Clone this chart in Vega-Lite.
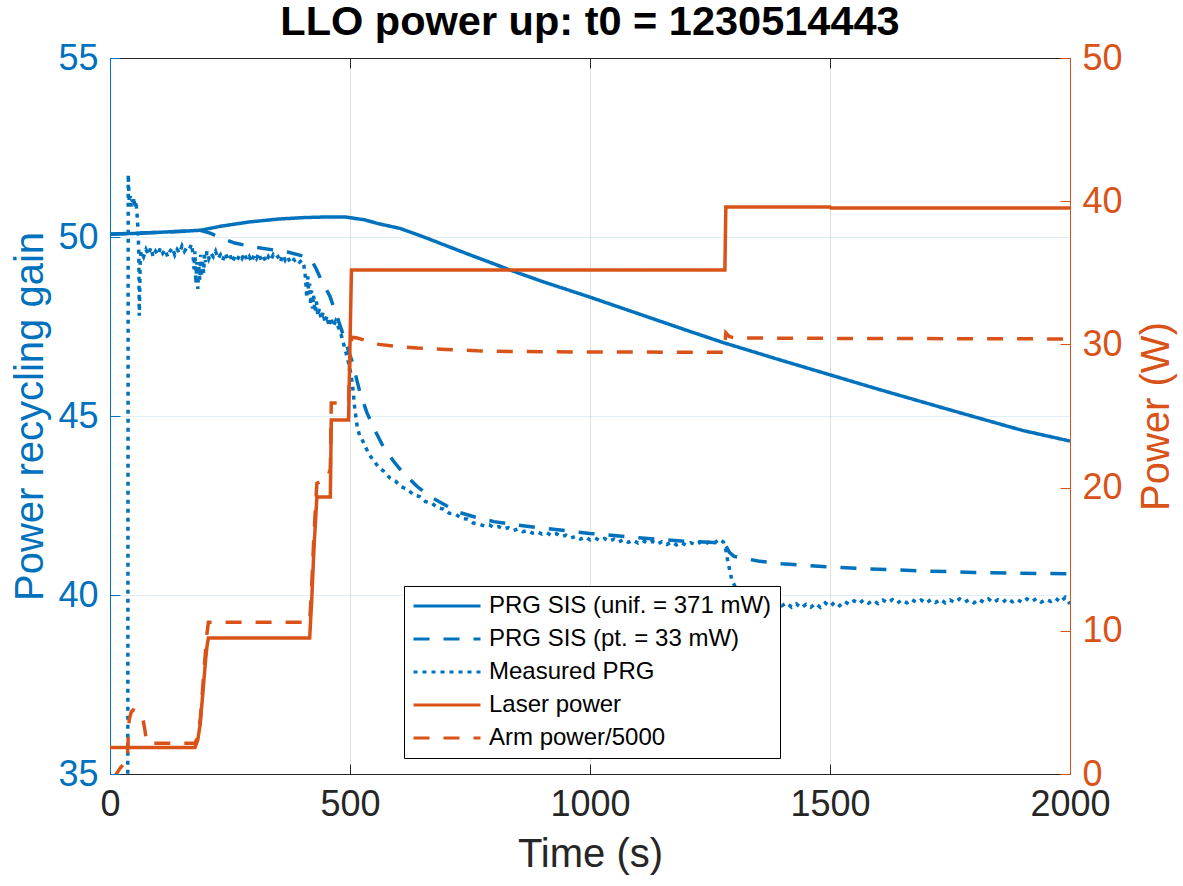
{
"$schema": "https://vega.github.io/schema/vega-lite/v6.json",
"width": 960, "height": 716,
"autosize": {"type": "none"},
"padding": {"left": 110, "top": 58, "right": 113, "bottom": 112},
"background": "white",
"title": {"text": "LLO power up: t0 = 1230514443", "font": "Liberation Sans", "fontSize": 41.5, "fontWeight": "bold", "color": "black", "anchor": "middle", "frame": "group", "baseline": "alphabetic", "offset": 0, "dy": 36},
"data": {"values": [
{"s":"PRG SIS (unif. = 371 mW)","t":0,"v":50.08},{"s":"PRG SIS (unif. = 371 mW)","t":50,"v":50.1},{"s":"PRG SIS (unif. = 371 mW)","t":100,"v":50.13},{"s":"PRG SIS (unif. = 371 mW)","t":150,"v":50.16},{"s":"PRG SIS (unif. = 371 mW)","t":190,"v":50.19},{"s":"PRG SIS (unif. = 371 mW)","t":230,"v":50.3},{"s":"PRG SIS (unif. = 371 mW)","t":290,"v":50.42},{"s":"PRG SIS (unif. = 371 mW)","t":350,"v":50.5},{"s":"PRG SIS (unif. = 371 mW)","t":400,"v":50.54},{"s":"PRG SIS (unif. = 371 mW)","t":450,"v":50.56},{"s":"PRG SIS (unif. = 371 mW)","t":490,"v":50.56},{"s":"PRG SIS (unif. = 371 mW)","t":530,"v":50.48},{"s":"PRG SIS (unif. = 371 mW)","t":560,"v":50.37},{"s":"PRG SIS (unif. = 371 mW)","t":604,"v":50.24},{"s":"PRG SIS (unif. = 371 mW)","t":650,"v":50.02},{"s":"PRG SIS (unif. = 371 mW)","t":700,"v":49.76},{"s":"PRG SIS (unif. = 371 mW)","t":750,"v":49.5},{"s":"PRG SIS (unif. = 371 mW)","t":800,"v":49.25},{"s":"PRG SIS (unif. = 371 mW)","t":833,"v":49.08},{"s":"PRG SIS (unif. = 371 mW)","t":900,"v":48.76},{"s":"PRG SIS (unif. = 371 mW)","t":1000,"v":48.32},{"s":"PRG SIS (unif. = 371 mW)","t":1100,"v":47.86},{"s":"PRG SIS (unif. = 371 mW)","t":1200,"v":47.4},{"s":"PRG SIS (unif. = 371 mW)","t":1280,"v":47.04},{"s":"PRG SIS (unif. = 371 mW)","t":1400,"v":46.55},{"s":"PRG SIS (unif. = 371 mW)","t":1500,"v":46.15},{"s":"PRG SIS (unif. = 371 mW)","t":1600,"v":45.75},{"s":"PRG SIS (unif. = 371 mW)","t":1750,"v":45.17},{"s":"PRG SIS (unif. = 371 mW)","t":1900,"v":44.6},{"s":"PRG SIS (unif. = 371 mW)","t":2000,"v":44.3},
{"s":"PRG SIS (pt. = 33 mW)","t":0,"v":50.08},{"s":"PRG SIS (pt. = 33 mW)","t":100,"v":50.13},{"s":"PRG SIS (pt. = 33 mW)","t":190,"v":50.18},{"s":"PRG SIS (pt. = 33 mW)","t":210,"v":50.1},{"s":"PRG SIS (pt. = 33 mW)","t":230,"v":49.98},{"s":"PRG SIS (pt. = 33 mW)","t":260,"v":49.83},{"s":"PRG SIS (pt. = 33 mW)","t":300,"v":49.72},{"s":"PRG SIS (pt. = 33 mW)","t":370,"v":49.58},{"s":"PRG SIS (pt. = 33 mW)","t":410,"v":49.44},{"s":"PRG SIS (pt. = 33 mW)","t":420,"v":49.35},{"s":"PRG SIS (pt. = 33 mW)","t":430,"v":49.1},{"s":"PRG SIS (pt. = 33 mW)","t":440,"v":48.8},{"s":"PRG SIS (pt. = 33 mW)","t":458,"v":48.35},{"s":"PRG SIS (pt. = 33 mW)","t":475,"v":47.7},{"s":"PRG SIS (pt. = 33 mW)","t":490,"v":47.1},{"s":"PRG SIS (pt. = 33 mW)","t":505,"v":46.5},{"s":"PRG SIS (pt. = 33 mW)","t":520,"v":45.7},{"s":"PRG SIS (pt. = 33 mW)","t":535,"v":45.1},{"s":"PRG SIS (pt. = 33 mW)","t":550,"v":44.65},{"s":"PRG SIS (pt. = 33 mW)","t":569,"v":44.15},{"s":"PRG SIS (pt. = 33 mW)","t":590,"v":43.75},{"s":"PRG SIS (pt. = 33 mW)","t":610,"v":43.42},{"s":"PRG SIS (pt. = 33 mW)","t":640,"v":43.03},{"s":"PRG SIS (pt. = 33 mW)","t":667,"v":42.75},{"s":"PRG SIS (pt. = 33 mW)","t":700,"v":42.5},{"s":"PRG SIS (pt. = 33 mW)","t":729,"v":42.3},{"s":"PRG SIS (pt. = 33 mW)","t":760,"v":42.18},{"s":"PRG SIS (pt. = 33 mW)","t":800,"v":42.05},{"s":"PRG SIS (pt. = 33 mW)","t":850,"v":41.95},{"s":"PRG SIS (pt. = 33 mW)","t":900,"v":41.87},{"s":"PRG SIS (pt. = 33 mW)","t":1000,"v":41.72},{"s":"PRG SIS (pt. = 33 mW)","t":1100,"v":41.6},{"s":"PRG SIS (pt. = 33 mW)","t":1200,"v":41.5},{"s":"PRG SIS (pt. = 33 mW)","t":1280,"v":41.45},{"s":"PRG SIS (pt. = 33 mW)","t":1290,"v":41.2},{"s":"PRG SIS (pt. = 33 mW)","t":1300,"v":41.08},{"s":"PRG SIS (pt. = 33 mW)","t":1350,"v":40.95},{"s":"PRG SIS (pt. = 33 mW)","t":1400,"v":40.87},{"s":"PRG SIS (pt. = 33 mW)","t":1500,"v":40.78},{"s":"PRG SIS (pt. = 33 mW)","t":1600,"v":40.72},{"s":"PRG SIS (pt. = 33 mW)","t":1700,"v":40.67},{"s":"PRG SIS (pt. = 33 mW)","t":1800,"v":40.63},{"s":"PRG SIS (pt. = 33 mW)","t":1900,"v":40.61},{"s":"PRG SIS (pt. = 33 mW)","t":2000,"v":40.59},
{"s":"Measured PRG","t":37,"v":34.0},{"s":"Measured PRG","t":38,"v":51.75},{"s":"Measured PRG","t":40,"v":51.0},{"s":"Measured PRG","t":42,"v":51.15},{"s":"Measured PRG","t":44,"v":50.85},{"s":"Measured PRG","t":46,"v":51.05},{"s":"Measured PRG","t":48,"v":50.9},{"s":"Measured PRG","t":50,"v":51.1},{"s":"Measured PRG","t":52,"v":50.8},{"s":"Measured PRG","t":54,"v":51.0},{"s":"Measured PRG","t":56,"v":50.7},{"s":"Measured PRG","t":58,"v":50.3},{"s":"Measured PRG","t":60,"v":49.6},{"s":"Measured PRG","t":61,"v":47.8},{"s":"Measured PRG","t":62,"v":48.6},{"s":"Measured PRG","t":63,"v":49.4},{"s":"Measured PRG","t":65,"v":49.6},{"s":"Measured PRG","t":70,"v":49.45},{"s":"Measured PRG","t":75,"v":49.65},{"s":"Measured PRG","t":80,"v":49.5},{"s":"Measured PRG","t":85,"v":49.7},{"s":"Measured PRG","t":90,"v":49.45},{"s":"Measured PRG","t":95,"v":49.6},{"s":"Measured PRG","t":100,"v":49.5},{"s":"Measured PRG","t":105,"v":49.7},{"s":"Measured PRG","t":110,"v":49.55},{"s":"Measured PRG","t":115,"v":49.65},{"s":"Measured PRG","t":120,"v":49.45},{"s":"Measured PRG","t":125,"v":49.6},{"s":"Measured PRG","t":130,"v":49.7},{"s":"Measured PRG","t":135,"v":49.5},{"s":"Measured PRG","t":140,"v":49.65},{"s":"Measured PRG","t":145,"v":49.55},{"s":"Measured PRG","t":150,"v":49.75},{"s":"Measured PRG","t":155,"v":49.6},{"s":"Measured PRG","t":160,"v":49.7},{"s":"Measured PRG","t":165,"v":49.65},{"s":"Measured PRG","t":170,"v":49.8},{"s":"Measured PRG","t":173,"v":49.5},{"s":"Measured PRG","t":175,"v":49.1},{"s":"Measured PRG","t":177,"v":49.6},{"s":"Measured PRG","t":179,"v":48.7},{"s":"Measured PRG","t":181,"v":49.3},{"s":"Measured PRG","t":183,"v":48.55},{"s":"Measured PRG","t":185,"v":49.2},{"s":"Measured PRG","t":187,"v":48.8},{"s":"Measured PRG","t":189,"v":49.5},{"s":"Measured PRG","t":191,"v":48.9},{"s":"Measured PRG","t":193,"v":49.3},{"s":"Measured PRG","t":195,"v":49.0},{"s":"Measured PRG","t":197,"v":49.5},{"s":"Measured PRG","t":199,"v":49.3},{"s":"Measured PRG","t":202,"v":49.6},{"s":"Measured PRG","t":206,"v":49.4},{"s":"Measured PRG","t":210,"v":49.55},{"s":"Measured PRG","t":215,"v":49.45},{"s":"Measured PRG","t":220,"v":49.6},{"s":"Measured PRG","t":225,"v":49.4},{"s":"Measured PRG","t":230,"v":49.5},{"s":"Measured PRG","t":235,"v":49.35},{"s":"Measured PRG","t":240,"v":49.55},{"s":"Measured PRG","t":245,"v":49.4},{"s":"Measured PRG","t":250,"v":49.5},{"s":"Measured PRG","t":255,"v":49.3},{"s":"Measured PRG","t":260,"v":49.45},{"s":"Measured PRG","t":265,"v":49.35},{"s":"Measured PRG","t":270,"v":49.5},{"s":"Measured PRG","t":275,"v":49.4},{"s":"Measured PRG","t":280,"v":49.55},{"s":"Measured PRG","t":285,"v":49.35},{"s":"Measured PRG","t":290,"v":49.45},{"s":"Measured PRG","t":295,"v":49.3},{"s":"Measured PRG","t":300,"v":49.5},{"s":"Measured PRG","t":305,"v":49.4},{"s":"Measured PRG","t":310,"v":49.55},{"s":"Measured PRG","t":315,"v":49.35},{"s":"Measured PRG","t":320,"v":49.45},{"s":"Measured PRG","t":325,"v":49.3},{"s":"Measured PRG","t":330,"v":49.45},{"s":"Measured PRG","t":335,"v":49.35},{"s":"Measured PRG","t":340,"v":49.5},{"s":"Measured PRG","t":345,"v":49.4},{"s":"Measured PRG","t":350,"v":49.45},{"s":"Measured PRG","t":355,"v":49.3},{"s":"Measured PRG","t":360,"v":49.5},{"s":"Measured PRG","t":365,"v":49.35},{"s":"Measured PRG","t":370,"v":49.45},{"s":"Measured PRG","t":375,"v":49.3},{"s":"Measured PRG","t":380,"v":49.4},{"s":"Measured PRG","t":385,"v":49.35},{"s":"Measured PRG","t":390,"v":49.4},{"s":"Measured PRG","t":395,"v":49.3},{"s":"Measured PRG","t":400,"v":49.35},{"s":"Measured PRG","t":404,"v":49.2},{"s":"Measured PRG","t":407,"v":48.9},{"s":"Measured PRG","t":410,"v":48.3},{"s":"Measured PRG","t":412,"v":48.9},{"s":"Measured PRG","t":414,"v":48.4},{"s":"Measured PRG","t":416,"v":48.7},{"s":"Measured PRG","t":418,"v":48.1},{"s":"Measured PRG","t":420,"v":48.5},{"s":"Measured PRG","t":422,"v":48.0},{"s":"Measured PRG","t":424,"v":48.4},{"s":"Measured PRG","t":427,"v":47.9},{"s":"Measured PRG","t":430,"v":48.2},{"s":"Measured PRG","t":433,"v":47.8},{"s":"Measured PRG","t":436,"v":48.0},{"s":"Measured PRG","t":440,"v":47.7},{"s":"Measured PRG","t":444,"v":47.9},{"s":"Measured PRG","t":448,"v":47.6},{"s":"Measured PRG","t":452,"v":47.8},{"s":"Measured PRG","t":456,"v":47.5},{"s":"Measured PRG","t":460,"v":47.75},{"s":"Measured PRG","t":465,"v":47.5},{"s":"Measured PRG","t":470,"v":47.65},{"s":"Measured PRG","t":475,"v":47.5},{"s":"Measured PRG","t":480,"v":47.35},{"s":"Measured PRG","t":485,"v":47.1},{"s":"Measured PRG","t":490,"v":46.85},{"s":"Measured PRG","t":495,"v":46.6},{"s":"Measured PRG","t":500,"v":46.3},{"s":"Measured PRG","t":505,"v":45.9},{"s":"Measured PRG","t":510,"v":45.2},{"s":"Measured PRG","t":515,"v":44.7},{"s":"Measured PRG","t":520,"v":44.45},{"s":"Measured PRG","t":525,"v":44.35},{"s":"Measured PRG","t":530,"v":44.2},{"s":"Measured PRG","t":540,"v":43.92},{"s":"Measured PRG","t":550,"v":43.74},{"s":"Measured PRG","t":560,"v":43.56},{"s":"Measured PRG","t":570,"v":43.46},{"s":"Measured PRG","t":583,"v":43.27},{"s":"Measured PRG","t":595,"v":43.18},{"s":"Measured PRG","t":607,"v":43.02},{"s":"Measured PRG","t":620,"v":42.95},{"s":"Measured PRG","t":632,"v":42.8},{"s":"Measured PRG","t":645,"v":42.75},{"s":"Measured PRG","t":657,"v":42.61},{"s":"Measured PRG","t":670,"v":42.57},{"s":"Measured PRG","t":682,"v":42.44},{"s":"Measured PRG","t":695,"v":42.4},{"s":"Measured PRG","t":707,"v":42.28},{"s":"Measured PRG","t":720,"v":42.26},{"s":"Measured PRG","t":732,"v":42.14},{"s":"Measured PRG","t":745,"v":42.12},{"s":"Measured PRG","t":757,"v":42.01},
{"s":"Measured PRG","t":770,"v":41.97},{"s":"Measured PRG","t":780,"v":41.93},{"s":"Measured PRG","t":790,"v":41.96},{"s":"Measured PRG","t":800,"v":41.88},{"s":"Measured PRG","t":810,"v":41.91},{"s":"Measured PRG","t":820,"v":41.84},{"s":"Measured PRG","t":830,"v":41.88},{"s":"Measured PRG","t":840,"v":41.8},{"s":"Measured PRG","t":850,"v":41.84},{"s":"Measured PRG","t":860,"v":41.77},{"s":"Measured PRG","t":870,"v":41.8},{"s":"Measured PRG","t":880,"v":41.73},{"s":"Measured PRG","t":890,"v":41.77},{"s":"Measured PRG","t":900,"v":41.7},{"s":"Measured PRG","t":910,"v":41.74},{"s":"Measured PRG","t":920,"v":41.66},{"s":"Measured PRG","t":930,"v":41.71},{"s":"Measured PRG","t":940,"v":41.63},{"s":"Measured PRG","t":950,"v":41.67},{"s":"Measured PRG","t":960,"v":41.59},{"s":"Measured PRG","t":970,"v":41.64},{"s":"Measured PRG","t":980,"v":41.56},{"s":"Measured PRG","t":990,"v":41.62},{"s":"Measured PRG","t":1000,"v":41.54},{"s":"Measured PRG","t":1010,"v":41.6},{"s":"Measured PRG","t":1020,"v":41.52},{"s":"Measured PRG","t":1030,"v":41.58},{"s":"Measured PRG","t":1040,"v":41.5},{"s":"Measured PRG","t":1050,"v":41.56},{"s":"Measured PRG","t":1060,"v":41.48},{"s":"Measured PRG","t":1070,"v":41.55},{"s":"Measured PRG","t":1080,"v":41.47},{"s":"Measured PRG","t":1090,"v":41.53},{"s":"Measured PRG","t":1100,"v":41.45},{"s":"Measured PRG","t":1110,"v":41.52},{"s":"Measured PRG","t":1120,"v":41.44},{"s":"Measured PRG","t":1130,"v":41.5},{"s":"Measured PRG","t":1140,"v":41.42},{"s":"Measured PRG","t":1150,"v":41.49},{"s":"Measured PRG","t":1160,"v":41.41},{"s":"Measured PRG","t":1170,"v":41.48},{"s":"Measured PRG","t":1180,"v":41.4},{"s":"Measured PRG","t":1190,"v":41.47},{"s":"Measured PRG","t":1200,"v":41.39},{"s":"Measured PRG","t":1210,"v":41.46},{"s":"Measured PRG","t":1220,"v":41.4},{"s":"Measured PRG","t":1230,"v":41.48},{"s":"Measured PRG","t":1240,"v":41.42},{"s":"Measured PRG","t":1250,"v":41.5},{"s":"Measured PRG","t":1260,"v":41.46},{"s":"Measured PRG","t":1270,"v":41.56},{"s":"Measured PRG","t":1278,"v":41.48},{"s":"Measured PRG","t":1283,"v":41.25},{"s":"Measured PRG","t":1287,"v":40.95},{"s":"Measured PRG","t":1291,"v":40.7},{"s":"Measured PRG","t":1295,"v":40.45},{"s":"Measured PRG","t":1300,"v":40.3},{"s":"Measured PRG","t":1305,"v":40.15},{"s":"Measured PRG","t":1310,"v":40.05},{"s":"Measured PRG","t":1315,"v":39.95},{"s":"Measured PRG","t":1320,"v":39.9},
{"s":"Measured PRG","t":1330,"v":39.84},{"s":"Measured PRG","t":1340,"v":39.78},{"s":"Measured PRG","t":1350,"v":39.86},{"s":"Measured PRG","t":1360,"v":39.76},{"s":"Measured PRG","t":1370,"v":39.83},{"s":"Measured PRG","t":1380,"v":39.72},{"s":"Measured PRG","t":1390,"v":39.8},{"s":"Measured PRG","t":1400,"v":39.7},{"s":"Measured PRG","t":1410,"v":39.78},{"s":"Measured PRG","t":1420,"v":39.66},{"s":"Measured PRG","t":1430,"v":39.75},{"s":"Measured PRG","t":1440,"v":39.64},{"s":"Measured PRG","t":1450,"v":39.74},{"s":"Measured PRG","t":1460,"v":39.66},{"s":"Measured PRG","t":1470,"v":39.76},{"s":"Measured PRG","t":1480,"v":39.65},{"s":"Measured PRG","t":1490,"v":39.78},{"s":"Measured PRG","t":1500,"v":39.68},{"s":"Measured PRG","t":1510,"v":39.8},{"s":"Measured PRG","t":1520,"v":39.7},{"s":"Measured PRG","t":1530,"v":39.82},{"s":"Measured PRG","t":1540,"v":39.74},{"s":"Measured PRG","t":1550,"v":39.84},{"s":"Measured PRG","t":1560,"v":39.76},{"s":"Measured PRG","t":1570,"v":39.86},{"s":"Measured PRG","t":1580,"v":39.77},{"s":"Measured PRG","t":1590,"v":39.85},{"s":"Measured PRG","t":1600,"v":39.76},{"s":"Measured PRG","t":1610,"v":39.86},{"s":"Measured PRG","t":1620,"v":39.78},{"s":"Measured PRG","t":1630,"v":39.87},{"s":"Measured PRG","t":1640,"v":39.77},{"s":"Measured PRG","t":1650,"v":39.86},{"s":"Measured PRG","t":1660,"v":39.78},{"s":"Measured PRG","t":1670,"v":39.88},{"s":"Measured PRG","t":1680,"v":39.79},{"s":"Measured PRG","t":1690,"v":39.86},{"s":"Measured PRG","t":1700,"v":39.77},{"s":"Measured PRG","t":1710,"v":39.87},{"s":"Measured PRG","t":1720,"v":39.79},{"s":"Measured PRG","t":1730,"v":39.88},{"s":"Measured PRG","t":1740,"v":39.78},{"s":"Measured PRG","t":1750,"v":39.86},{"s":"Measured PRG","t":1760,"v":39.79},{"s":"Measured PRG","t":1770,"v":39.89},{"s":"Measured PRG","t":1780,"v":39.8},{"s":"Measured PRG","t":1790,"v":39.87},{"s":"Measured PRG","t":1800,"v":39.78},{"s":"Measured PRG","t":1810,"v":39.88},{"s":"Measured PRG","t":1820,"v":39.8},{"s":"Measured PRG","t":1830,"v":39.89},{"s":"Measured PRG","t":1840,"v":39.79},{"s":"Measured PRG","t":1850,"v":39.87},{"s":"Measured PRG","t":1860,"v":39.8},{"s":"Measured PRG","t":1870,"v":39.9},{"s":"Measured PRG","t":1880,"v":39.81},{"s":"Measured PRG","t":1890,"v":39.88},{"s":"Measured PRG","t":1900,"v":39.79},{"s":"Measured PRG","t":1910,"v":39.89},{"s":"Measured PRG","t":1920,"v":39.81},{"s":"Measured PRG","t":1930,"v":39.9},{"s":"Measured PRG","t":1940,"v":39.8},{"s":"Measured PRG","t":1950,"v":39.88},{"s":"Measured PRG","t":1960,"v":39.82},{"s":"Measured PRG","t":1970,"v":39.91},{"s":"Measured PRG","t":1980,"v":39.8},{"s":"Measured PRG","t":1990,"v":39.93},{"s":"Measured PRG","t":2000,"v":39.75},
{"s":"Laser power","t":0,"v":1.85},{"s":"Laser power","t":177,"v":1.85},{"s":"Laser power","t":183,"v":2.4},{"s":"Laser power","t":188,"v":3.5},{"s":"Laser power","t":194,"v":5.9},{"s":"Laser power","t":199,"v":7.9},{"s":"Laser power","t":202,"v":8.9},{"s":"Laser power","t":205,"v":9.5},{"s":"Laser power","t":416,"v":9.5},{"s":"Laser power","t":420,"v":12},{"s":"Laser power","t":425,"v":15.8},{"s":"Laser power","t":431,"v":19.34},{"s":"Laser power","t":459,"v":19.34},{"s":"Laser power","t":461,"v":24.72},{"s":"Laser power","t":497,"v":24.72},{"s":"Laser power","t":500,"v":30},{"s":"Laser power","t":503,"v":35.2},{"s":"Laser power","t":1281,"v":35.2},{"s":"Laser power","t":1283,"v":39.6},{"s":"Laser power","t":1500,"v":39.6},{"s":"Laser power","t":1502,"v":39.52},{"s":"Laser power","t":2000,"v":39.52},
{"s":"Arm power/5000","t":8,"v":-0.3},{"s":"Arm power/5000","t":15,"v":0.1},{"s":"Arm power/5000","t":22,"v":0.45},{"s":"Arm power/5000","t":31,"v":0.8},{"s":"Arm power/5000","t":36,"v":0.9},{"s":"Arm power/5000","t":38,"v":2.6},{"s":"Arm power/5000","t":40,"v":3.8},{"s":"Arm power/5000","t":44,"v":4.3},{"s":"Arm power/5000","t":48,"v":4.47},{"s":"Arm power/5000","t":55,"v":4.4},{"s":"Arm power/5000","t":62,"v":4.25},{"s":"Arm power/5000","t":66,"v":4.1},{"s":"Arm power/5000","t":70,"v":3.6},{"s":"Arm power/5000","t":73,"v":3.0},{"s":"Arm power/5000","t":76,"v":2.3},{"s":"Arm power/5000","t":78,"v":2.15},{"s":"Arm power/5000","t":177,"v":2.15},{"s":"Arm power/5000","t":183,"v":2.6},{"s":"Arm power/5000","t":188,"v":3.8},{"s":"Arm power/5000","t":194,"v":6.4},{"s":"Arm power/5000","t":199,"v":8.6},{"s":"Arm power/5000","t":202,"v":9.8},{"s":"Arm power/5000","t":205,"v":10.6},{"s":"Arm power/5000","t":416,"v":10.6},{"s":"Arm power/5000","t":420,"v":13},{"s":"Arm power/5000","t":425,"v":16.8},{"s":"Arm power/5000","t":431,"v":20.3},{"s":"Arm power/5000","t":452,"v":20.6},{"s":"Arm power/5000","t":456,"v":21.0},{"s":"Arm power/5000","t":459,"v":21.3},{"s":"Arm power/5000","t":461,"v":25.9},{"s":"Arm power/5000","t":497,"v":25.9},{"s":"Arm power/5000","t":500,"v":29.5},{"s":"Arm power/5000","t":504,"v":30.5},{"s":"Arm power/5000","t":515,"v":30.45},{"s":"Arm power/5000","t":530,"v":30.3},{"s":"Arm power/5000","t":560,"v":30.0},{"s":"Arm power/5000","t":600,"v":29.85},{"s":"Arm power/5000","t":640,"v":29.75},{"s":"Arm power/5000","t":700,"v":29.65},{"s":"Arm power/5000","t":765,"v":29.55},{"s":"Arm power/5000","t":850,"v":29.5},{"s":"Arm power/5000","t":1000,"v":29.47},{"s":"Arm power/5000","t":1280,"v":29.45},{"s":"Arm power/5000","t":1283,"v":30.8},{"s":"Arm power/5000","t":1290,"v":30.55},{"s":"Arm power/5000","t":1300,"v":30.45},{"s":"Arm power/5000","t":1500,"v":30.42},{"s":"Arm power/5000","t":2000,"v":30.38}
]},
"encoding": {
  "color": {"field": "s", "type": "nominal",
    "scale": {"domain": ["PRG SIS (unif. = 371 mW)", "PRG SIS (pt. = 33 mW)", "Measured PRG", "Laser power", "Arm power/5000"], "range": ["#0072BD", "#0072BD", "#0072BD", "#D95319", "#D95319"]},
    "legend": {"title": null, "orient": "none", "legendX": 294, "legendY": 528}},
  "strokeDash": {"field": "s", "type": "nominal",
    "scale": {"domain": ["PRG SIS (unif. = 371 mW)", "PRG SIS (pt. = 33 mW)", "Measured PRG", "Laser power", "Arm power/5000"], "range": [[1, 0], [16, 14], [4, 5], [1, 0], [16, 14]]},
    "legend": {"title": null, "orient": "none", "legendX": 294, "legendY": 528}}
},
"layer": [
  {
    "transform": [{"filter": {"field": "s", "oneOf": ["PRG SIS (unif. = 371 mW)", "PRG SIS (pt. = 33 mW)", "Measured PRG"]}}],
    "mark": {"type": "line", "clip": true, "strokeWidth": 3.5},
    "encoding": {
      "x": {"field": "t", "type": "quantitative", "scale": {"domain": [0, 2000], "nice": false, "zero": false},
        "axis": {"orient": "bottom", "values": [0, 500, 1000, 1500, 2000], "format": "d", "labelFlush": false, "title": "Time (s)", "labelColor": "#262626", "titleColor": "#262626", "domainColor": "#262626", "tickColor": "#262626", "grid": true, "gridColor": "#262626", "gridOpacity": 0.15, "labelPadding": 23, "titlePadding": 12}},
      "y": {"field": "v", "type": "quantitative", "scale": {"domain": [35, 55], "nice": false, "zero": false},
        "axis": {"orient": "left", "values": [35, 40, 45, 50, 55], "labelFlush": false, "title": "Power recycling gain", "labelColor": "#0072BD", "titleColor": "#0072BD", "domainColor": "#0072BD", "tickColor": "#0072BD", "grid": true, "gridColor": "#0072BD", "gridOpacity": 0.12, "labelPadding": 22, "titlePadding": 7}}
    }
  },
  {
    "transform": [{"filter": {"field": "s", "oneOf": ["Laser power", "Arm power/5000"]}}],
    "mark": {"type": "line", "clip": true, "strokeWidth": 3.5},
    "encoding": {
      "x": {"field": "t", "type": "quantitative", "scale": {"domain": [0, 2000], "nice": false, "zero": false},
        "axis": {"orient": "top", "values": [0, 500, 1000, 1500, 2000], "title": null, "labels": false, "domainColor": "#262626", "tickColor": "#262626", "grid": false}},
      "y": {"field": "v", "type": "quantitative", "scale": {"domain": [0, 50], "nice": false, "zero": false},
        "axis": {"orient": "right", "values": [0, 10, 20, 30, 40, 50], "labelFlush": false, "title": "Power (W)", "titleAngle": 270, "titleBaseline": "top", "labelColor": "#D95319", "titleColor": "#D95319", "domainColor": "#D95319", "tickColor": "#D95319", "grid": false, "labelPadding": 22, "titlePadding": 14}}
    }
  }
],
"resolve": {"scale": {"y": "independent"}, "axis": {"x": "independent"}},
"config": {
  "font": "Liberation Sans",
  "view": {"stroke": null},
  "axis": {"labelFont": "Liberation Sans", "titleFont": "Liberation Sans", "labelFontSize": 36, "titleFontSize": 40, "titleFontWeight": "normal", "tickSize": -10, "tickWidth": 1, "domainWidth": 1},
  "legend": {"labelFont": "Liberation Sans", "labelFontSize": 24, "labelColor": "black", "symbolType": "stroke", "symbolSize": 4489, "symbolStrokeWidth": 3, "clipHeight": 24, "rowPadding": 9, "padding": 8, "strokeColor": "black", "fillColor": "white", "labelOffset": 7, "symbolOffset": 0, "labelLimit": 0}
}
}
